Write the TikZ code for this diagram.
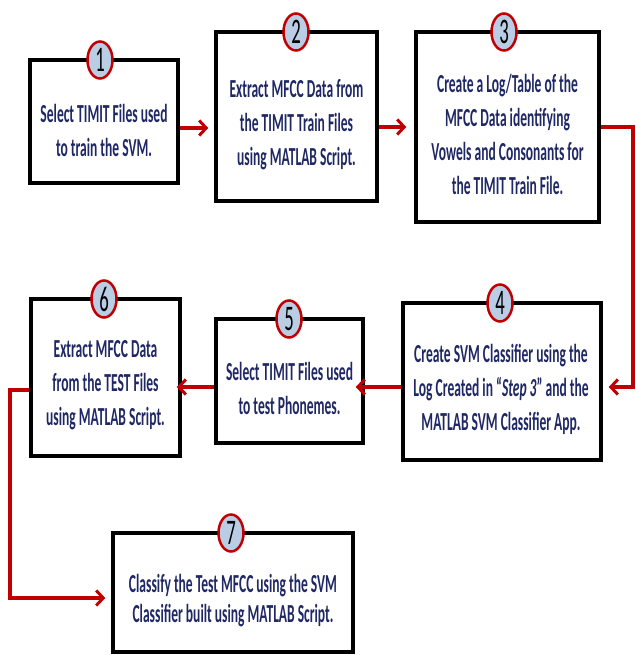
\documentclass[tikz,border=0pt]{standalone}
\usepackage{fontspec}
\setmainfont{Carlito}[FakeStretch=0.52]
\usetikzlibrary{arrows.meta,shapes.geometric,positioning}
\definecolor{txtblue}{RGB}{31,40,100}
\definecolor{darkred}{RGB}{192,0,0}
\definecolor{numfill}{RGB}{185,205,229}
\tikzset{
  stepbox/.style={draw=black,line width=3.5pt,fill=white,inner sep=0pt},
  steptext/.style={text=txtblue,font=\fontsize{26}{34}\selectfont\bfseries,align=center,inner sep=0pt},
  numball/.style={ellipse,draw=darkred,line width=2.5pt,fill=numfill,minimum width=25pt,minimum height=37pt,inner sep=0pt,font=\fontsize{36}{36}\selectfont,text=black},
  flow/.style={draw=darkred,line width=3.5pt,-{Straight Barb[length=7pt,width=15pt,line width=3pt]}}
}
\begin{document}
\begin{tikzpicture}[x=1pt,y=-1pt]
\useasboundingbox (0,0) rectangle (635,655);
% boxes
\node[stepbox,minimum width=148pt,minimum height=123pt] (b1) at (104,121.5) {};
\node[stepbox,minimum width=161pt,minimum height=169pt] (b2) at (296.5,116.5) {};
\node[stepbox,minimum width=183pt,minimum height=190pt] (b3) at (507.5,127) {};
\node[stepbox,minimum width=198pt,minimum height=157pt] (b4) at (502,381.5) {};
\node[stepbox,minimum width=147pt,minimum height=124pt] (b5) at (289.5,381) {};
\node[stepbox,minimum width=149pt,minimum height=157pt] (b6) at (105.5,377.5) {};
\node[stepbox,minimum width=240pt,minimum height=119pt] (b7) at (233,592.5) {};
% texts
\node[steptext] (t1) at (104,130) {Select TIMIT Files used\\to train the SVM.};
\node[steptext] (t2) at (296.5,125) {Extract MFCC Data from\\the TIMIT Train Files\\using MATLAB Script.};
\node[steptext] (t3) at (507.5,134) {Create a Log/Table of the\\MFCC Data identifying\\Vowels and Consonants for\\the TIMIT Train File.};
\node[steptext] (t4) at (501,389) {Create SVM Classifier using the\\Log Created in ``\textit{Step 3}'' and the\\MATLAB SVM Classifier App.};
\node[steptext] (t5) at (289.5,388) {Select TIMIT Files used\\to test Phonemes.};
\node[steptext] (t6) at (105.5,385) {Extract MFCC Data\\from the TEST Files\\using MATLAB Script.};
\node[steptext,font=\fontsize{26}{30}\selectfont\bfseries] (t7) at (233,601) {Classify the Test MFCC using the SVM\\Classifier built using MATLAB Script.};
% number balls
\node[numball] (n1) at (100,60) {1};
\node[numball] (n2) at (296,32) {2};
\node[numball] (n3) at (504,32) {3};
\node[numball] (n4) at (500,303) {4};
\node[numball] (n5) at (289,319) {5};
\node[numball] (n6) at (104,299) {6};
\node[numball] (n7) at (231,533) {7};
% connectors
\coordinate (c3a) at (633,127);
\coordinate (c3b) at (633,387);
\coordinate (c6a) at (10,390);
\coordinate (c6b) at (10,598);
\draw[flow] (b1.east |- 0,128) -- ([xshift=-6pt]b2.west |- 0,128);
\draw[flow] (b2.east |- 0,127) -- ([xshift=-8pt]b3.west |- 0,127);
\draw[flow,line join=miter] (b3.east |- c3a) -- (c3a) -- (c3b) -- ([xshift=6pt]b4.east |- c3b);
\draw[flow] (b4.west |- 0,387) -- ([xshift=-9pt]b5.east |- 0,387);
\draw[flow] (b5.west |- 0,387) -- ([xshift=-5pt]b6.east |- 0,387);
\draw[flow,line join=miter] (b6.west |- c6a) -- (c6a) -- (c6b) -- ([xshift=-6pt]b7.west |- c6b);
\end{tikzpicture}
\end{document}
